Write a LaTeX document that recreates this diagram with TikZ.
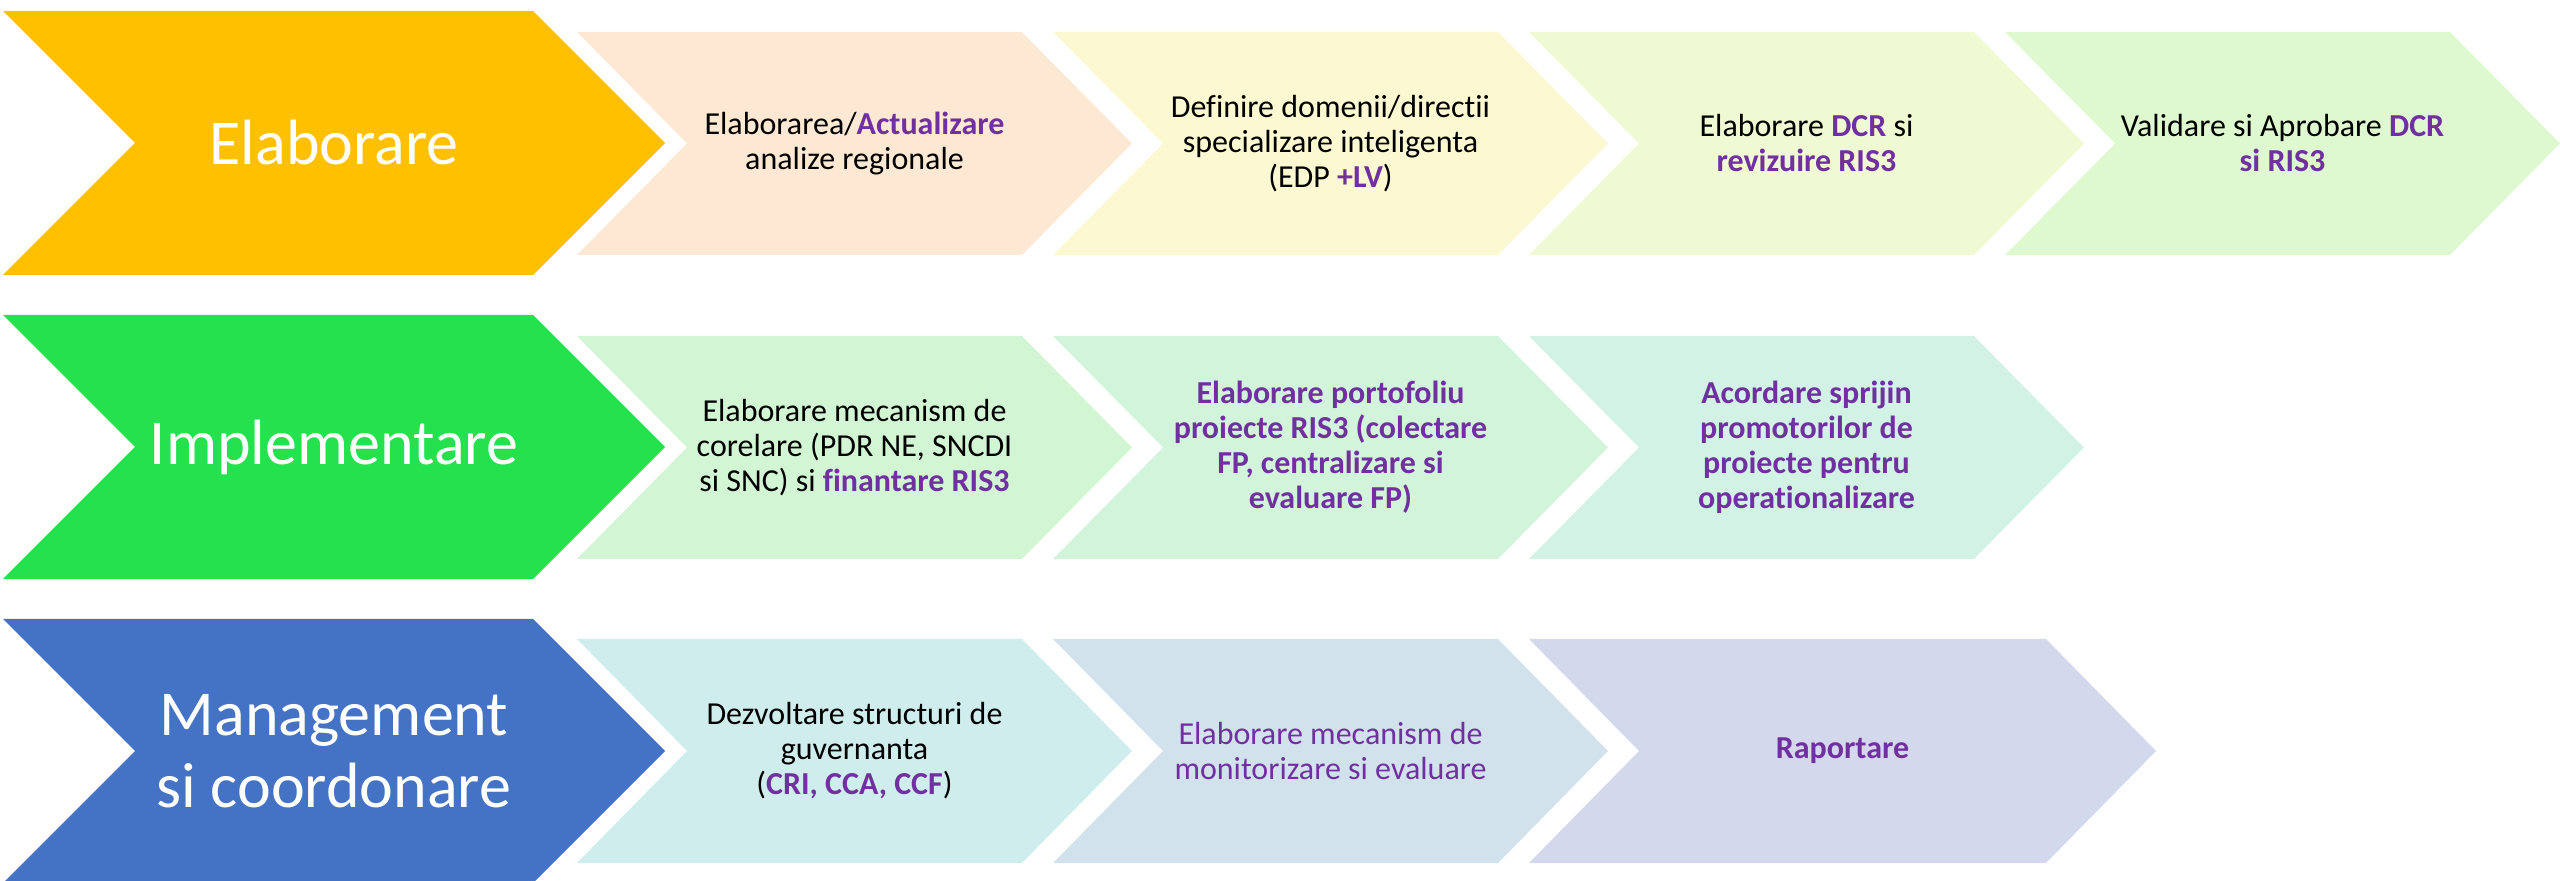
\documentclass[tikz,border=0pt]{standalone}
\usepackage{fontspec}
\setmainfont{Carlito}[Ligatures={NoCommon,TeX}]
\definecolor{purp}{HTML}{7030A0}
\definecolor{cgold}{HTML}{FFC000}
\definecolor{cgreen}{RGB}{35,226,77}
\definecolor{cblue}{HTML}{4472C4}
\definecolor{ca1}{HTML}{FDE9D3}
\definecolor{ca2}{HTML}{FCF8D2}
\definecolor{ca3}{HTML}{EFFAD2}
\definecolor{ca4}{HTML}{DEF8D0}
\definecolor{cb1}{HTML}{D2F5D4}
\definecolor{cb2}{HTML}{D2F4DA}
\definecolor{cb3}{HTML}{D2F2E6}
\definecolor{cc1}{HTML}{D0EDED}
\definecolor{cc2}{HTML}{D2E2EC}
\definecolor{cc3}{HTML}{D4D8EC}
\tikzset{
  bigtxt/.style={text=white, font=\fontsize{32}{36}\selectfont, align=center, inner sep=0pt},
  smtxt/.style={text=black, font=\fontsize{16}{17.5}\selectfont, align=center, inner sep=0pt},
}
\newcommand\pb[1]{\textcolor{purp}{\bfseries #1}}
\newcommand\mychev[9]{%
  \fill[#7] (#2,#3) -- ({#5-#6},#3) -- (#5,{(#3+#4)/2}) -- ({#5-#6},#4) -- (#2,#4) -- ({#2+#6},{(#3+#4)/2}) -- cycle;
  \node[#8] (#1) at ({(#2+#5)/2},{(#3+#4)/2}) {#9};
}
\begin{document}
\begin{tikzpicture}[x=0.5pt,y=-0.5pt]
\useasboundingbox (0,0) rectangle (2560,881);
% Row 1
\mychev{elab}{3}{11}{275}{665}{132}{cgold}{bigtxt}{Elaborare}
\mychev{a1}{577}{32}{255}{1132}{110}{ca1}{smtxt}{Elaborarea/\pb{Actualizare}\\analize regionale}
\mychev{a2}{1053}{32}{255}{1608}{110}{ca2}{smtxt}{Definire domenii/directii\\specializare inteligenta\\(EDP \pb{+LV})}
\mychev{a3}{1529}{32}{255}{2084}{110}{ca3}{smtxt}{Elaborare \pb{DCR} si\\\pb{revizuire RIS3}}
\mychev{a4}{2005}{32}{255}{2560}{110}{ca4}{smtxt}{Validare si Aprobare \pb{DCR}\\\pb{si RIS3}}
% Row 2
\mychev{impl}{3}{315}{579}{665}{132}{cgreen}{bigtxt}{Implementare}
\mychev{b1}{577}{336}{559}{1132}{110}{cb1}{smtxt}{Elaborare mecanism de\\corelare (PDR NE, SNCDI\\si SNC) si \pb{finantare RIS3}}
\mychev{b2}{1053}{336}{559}{1608}{110}{cb2}{smtxt}{\pb{Elaborare portofoliu}\\\pb{proiecte RIS3 (colectare}\\\pb{FP, centralizare si}\\\pb{evaluare FP)}}
\mychev{b3}{1529}{336}{559}{2084}{110}{cb3}{smtxt}{\pb{Acordare sprijin}\\\pb{promotorilor de}\\\pb{proiecte pentru}\\\pb{operationalizare}}
% Row 3
\mychev{mgmt}{3}{619}{883}{665}{132}{cblue}{bigtxt}{Management\\si coordonare}
\mychev{c1}{577}{639}{863}{1132}{110}{cc1}{smtxt}{Dezvoltare structuri de\\guvernanta\\(\pb{CRI, CCA, CCF})}
\mychev{c2}{1053}{639}{863}{1608}{110}{cc2}{smtxt}{\textcolor{purp}{Elaborare mecanism de}\\\textcolor{purp}{monitorizare si evaluare}}
\mychev{c3}{1529}{639}{863}{2156}{110}{cc3}{smtxt}{\pb{Raportare}}
\end{tikzpicture}
\end{document}
